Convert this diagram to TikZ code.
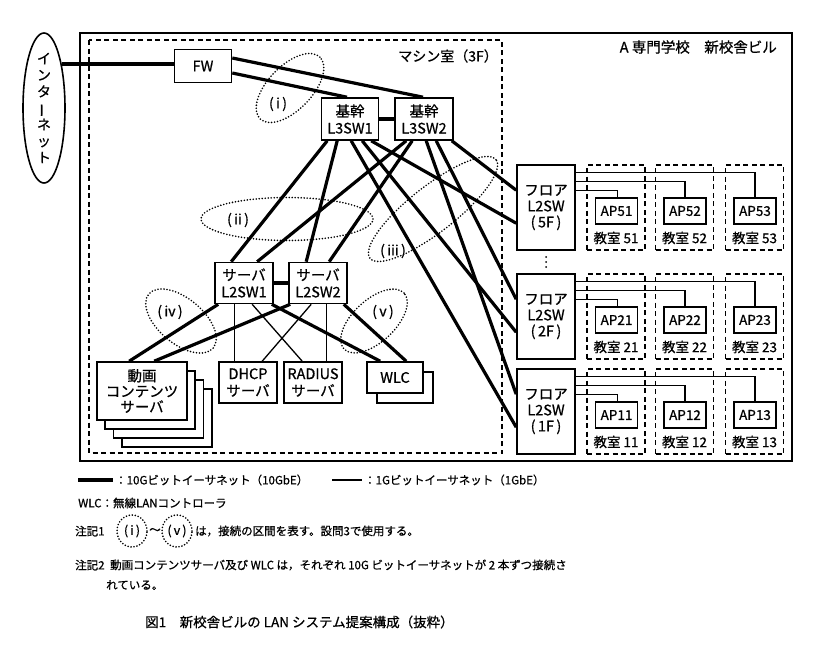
\documentclass[tikz,border=0pt]{standalone}
\usepackage{fontspec}
\setmainfont{Noto Sans CJK JP}[FakeBold=0.7]
\usetikzlibrary{shapes.geometric}
\begin{document}
\begin{tikzpicture}[x=1pt,y=-1pt,
  box/.style={draw,line width=1.6pt,fill=white,align=center,inner sep=0pt,font=\fontsize{14.5}{17}\selectfont},
  apbox/.style={box,minimum width=42pt,minimum height=26pt,font=\fontsize{13.5}{15}\selectfont},
  room/.style={draw,line width=1.5pt,dash pattern=on 5pt off 3.5pt,minimum width=58pt,minimum height=85pt,inner sep=0pt},
  dframe/.style={line width=1.5pt,dash pattern=on 5pt off 3.5pt},
  sframe/.style={line width=1.8pt},
  thk/.style={line width=3.2pt},
  thn/.style={line width=1.3pt},
  zone/.style={draw,ellipse,line width=1.8pt,dash pattern=on 0pt off 3pt,line cap=round,inner sep=0pt},
  lbl/.style={inner sep=0pt,font=\fontsize{14}{16}\selectfont},
  txt/.style={inner sep=0pt,anchor=west,font=\fontsize{11.5}{13}\selectfont},
]
\fill[white] (0,0) rectangle (829,654);
\useasboundingbox (0,0) rectangle (829,654);

% frames
\draw[sframe] (80,33) rectangle (792,461);
\draw[dframe] (89,40) rectangle (502,453);
\node[lbl,anchor=east] (machine) at (498,56) {マシン室（3F）};
\node[lbl,anchor=east,font=\fontsize{14.5}{16}\selectfont] (school) at (777,47) {A 専門学校　新校舎ビル};

% internet
\node[draw,ellipse,line width=1.6pt,minimum width=42pt,minimum height=150pt,inner sep=0pt,fill=white] (inet) at (44,108) {};
\node[lbl,align=center,font=\fontsize{14}{16.5}\selectfont] (inettxt) at (inet) {イ\\ン\\タ\\\rotatebox[origin=c]{90}{ー}\\ネ\\ッ\\ト};

% core
\node[box,minimum width=57pt,minimum height=33pt] (fw) at (203,66) {FW};
\node[box,minimum width=57pt,minimum height=42pt] (l3a) at (350,119) {基幹\\L3SW1};
\node[box,minimum width=58pt,minimum height=42pt] (l3b) at (424,119) {基幹\\L3SW2};

% server switches
\node[box,minimum width=58pt,minimum height=41pt] (s1) at (244,283) {サーバ\\L2SW1};
\node[box,minimum width=58pt,minimum height=41pt] (s2) at (318,283) {サーバ\\L2SW2};

% servers
\node[box,minimum width=90pt,minimum height=58pt] (v3) at (167,418) {};
\node[box,minimum width=90pt,minimum height=58pt] (v2) at (158.5,409) {};
\node[box,minimum width=90pt,minimum height=58pt] (v1) at (150,400) {};
\node[box,minimum width=90pt,minimum height=58pt,font=\fontsize{14.5}{15.5}\selectfont] (v0) at (142,391) {動画\\コンテンツ\\サーバ};
\node[box,minimum width=58pt,minimum height=41pt] (dhcp) at (248,382.5) {DHCP\\サーバ};
\node[box,minimum width=58pt,minimum height=41pt] (radius) at (313,382.5) {RADIUS\\サーバ};
\node[box,minimum width=56pt,minimum height=31pt] (w1) at (405,387.5) {};
\node[box,minimum width=56pt,minimum height=31pt] (w0) at (395,377.5) {WLC};

% floors
\foreach \fl/\T in {5/165,2/274,1/369}{
  \node[box,minimum width=58pt,minimum height=85pt,font=\fontsize{14.5}{16}\selectfont] (f\fl) at (546,\T+42.5) {フロア\\L2SW\\(\,\fl F\,)};
  \foreach \k/\xx in {1/616,2/684.5,3/754.5}{
    \node[room] (r\fl\k) at (\xx,\T+42.5) {};
    \node[apbox] (ap\fl\k) at (\xx+0.5,\T+46) {AP\fl\k};
    \node[lbl,font=\fontsize{13.5}{15}\selectfont] (rl\fl\k) at (\xx,\T+73) {教室 \fl\k};
  }
  \draw[thn] ([yshift=-8pt]f\fl.north east) -| (ap\fl3.north);
  \draw[thn] ([yshift=-17pt]f\fl.north east) -| (ap\fl2.north);
  \draw[thn] ([yshift=-26pt]f\fl.north east) -| ([xshift=1pt]ap\fl1.north);
}
\fill (546,257) circle (1pt) (546,262) circle (1pt) (546,267) circle (1pt);

% 10G links
\draw[thk] (inet.68) -- (inet.68 -| fw.west);
\draw[thk] ([yshift=8pt]fw.east) -- ([xshift=-1pt]l3b.north);
\draw[thk] ([yshift=-7pt]fw.east) -- ([xshift=-3pt]l3a.north);
\draw[thk] (l3a.east) -- (l3b.west);
\draw[thk] (s1.east) -- (s2.west);

\draw[thk] ([xshift=6.5pt]l3a.south west) -- ([xshift=17pt]s1.north west);
\draw[thk] ([xshift=16.5pt]l3a.south west) -- ([xshift=18pt]s2.north west);
\draw[thk] ([xshift=12pt]l3b.south west) -- ([xshift=43pt]s1.north west);
\draw[thk] ([xshift=18pt]l3b.south west) -- ([xshift=41pt]s2.north west);

\draw[thk] ([xshift=30.5pt]l3a.south west) -- ([yshift=-59pt]f1.north west);
\draw[thk] ([xshift=41.5pt]l3a.south west) -- ([yshift=-59pt]f2.north west);
\draw[thk] ([xshift=50.5pt]l3a.south west) -- ([yshift=-59pt]f5.north west);
\draw[thk] ([xshift=32pt]l3b.south west) -- ([yshift=-26pt]f1.north west);
\draw[thk] ([xshift=42pt]l3b.south west) -- ([yshift=-26pt]f2.north west);
\draw[thk] ([xshift=-2pt]l3b.south east) -- ([yshift=-26pt]f5.north west);

\draw[thk] ([xshift=4pt]s1.south west) -- ([xshift=33pt]v0.north west);
\draw[thk] ([xshift=2pt]s2.south west) -- ([xshift=58pt]v0.north west);
\draw[thk] ([xshift=-2pt]s1.south east) -- ([xshift=14pt]w0.north west);
\draw[thk] ([xshift=-4pt]s2.south east) -- ([xshift=40pt]w0.north west);

% 1G links
\draw[thn] ([xshift=20pt]s1.south west) -- ([xshift=20pt]s1.south west |- dhcp.north);
\draw[thn] ([xshift=38pt]s1.south west) -- ([xshift=19pt]radius.north west);
\draw[thn] ([xshift=23pt]s2.south west) -- ([xshift=44pt]dhcp.north west);
\draw[thn] ([xshift=38pt]s2.south west) -- ([xshift=38pt]s2.south west |- radius.north);

% zones
\node[zone,minimum width=86pt,minimum height=44pt,rotate=46] (z1) at (290,88) {};
\node[lbl] (z1l) at (278,104) {(\,i\,)};
\node[zone,minimum width=172pt,minimum height=43pt] (z2) at (287,219) {};
\node[lbl] (z2l) at (238,220) {(\,ii\,)};
\node[zone,minimum width=160pt,minimum height=46pt,rotate=38] (z3) at (433,209) {};
\node[lbl] (z3l) at (393,251) {(\,iii\,)};
\node[zone,minimum width=84pt,minimum height=45pt,rotate=-40] (z4) at (181,321) {};
\node[lbl] (z4l) at (170,312) {(\,iv\,)};
\node[zone,minimum width=82pt,minimum height=42pt,rotate=43] (z5) at (374,321) {};
\node[lbl] (z5l) at (383,312) {(\,v\,)};

% legend
\coordinate (lg1a) at (78,480);
\coordinate (lg1b) at (113,480);
\draw[thk] (lg1a) -- (lg1b);
\node[txt] (lg1t) at (115,480) {：10Gビットイーサネット（10GbE）};
\coordinate (lg2a) at (332,480);
\coordinate (lg2b) at (362,480);
\draw[thn] (lg2a) -- (lg2b);
\node[txt] (lg2t) at (364,480) {：1Gビットイーサネット（1GbE）};
\node[txt] (wlcnote) at (78,503) {WLC：無線LANコントローラ};

% notes
\node[txt] (n1) at (75,531) {注記1};
\node[zone,minimum width=30pt,minimum height=32pt] (c1) at (132,531) {};
\node[lbl,font=\fontsize{12.5}{14}\selectfont] (c1t) at (c1) {(\,i\,)};
\node[txt,anchor=center] (tilde) at (155,531) {～};
\node[zone,minimum width=30pt,minimum height=32pt] (c2) at (177,531) {};
\node[lbl,font=\fontsize{12.5}{14}\selectfont] (c2t) at (c2) {(\,v\,)};
\node[txt] (n1b) at (195,531) {は，接続の区間を表す。設問3で使用する。};
\node[txt] (n2) at (75,565) {注記2};
\node[txt] (n2b) at (110,565) {動画コンテンツサーバ及び WLC は，それぞれ 10G ビットイーサネットが 2 本ずつ接続さ};
\node[txt] (n2c) at (106,585) {れている。};

\node[txt,font=\fontsize{13.5}{15}\selectfont] (cap) at (145,622) {図1　新校舎ビルの LAN システム提案構成（抜粋）};
\end{tikzpicture}
\end{document}
